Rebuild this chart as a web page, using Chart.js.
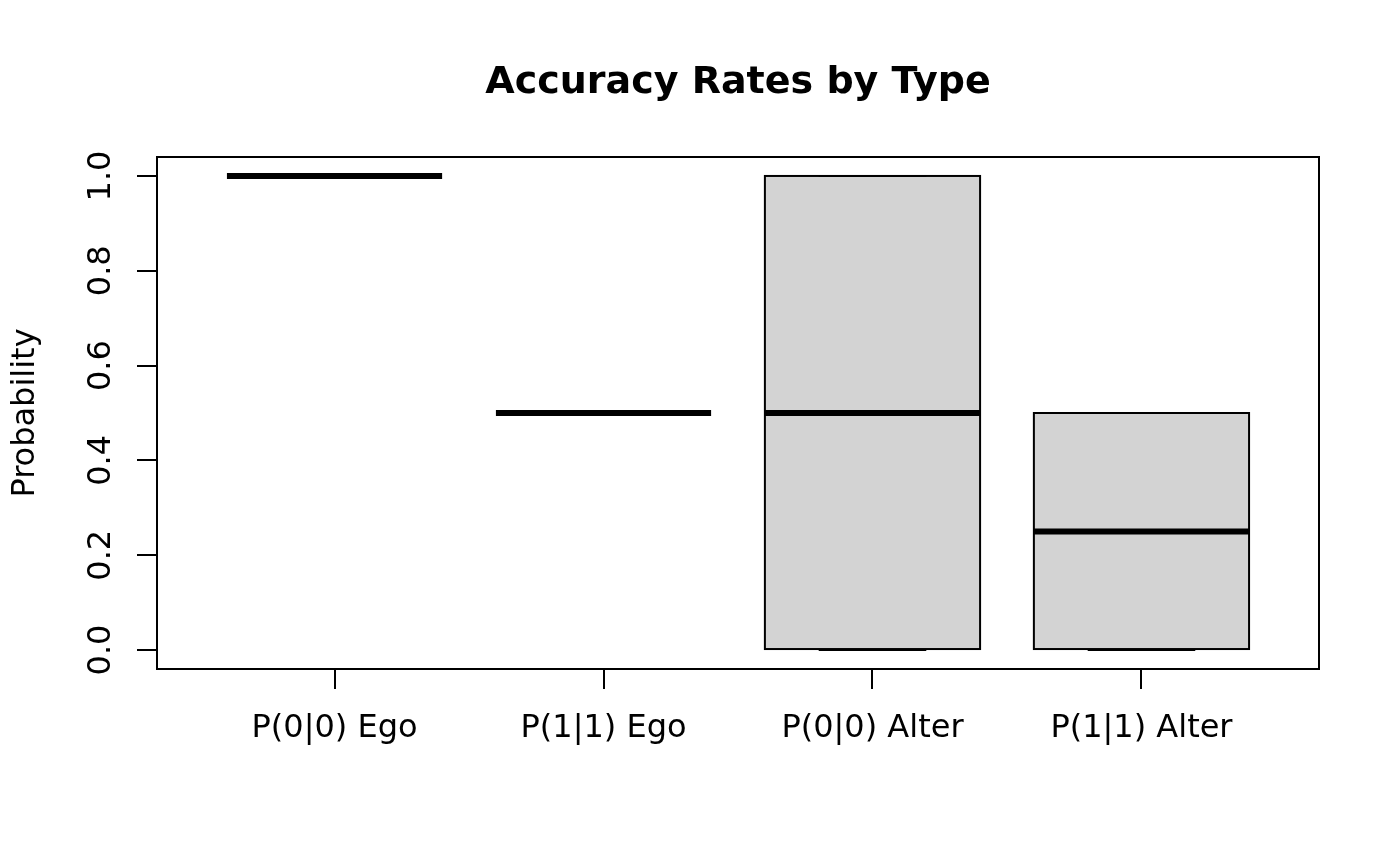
<!DOCTYPE html>
<html>
<head>
<meta charset="utf-8">
<title>Accuracy Rates by Type</title>
<script src="https://cdn.jsdelivr.net/npm/chart.js@4"></script>
<style>
  body { margin: 0; background: white; }
</style>
</head>
<body>
<canvas id="graphic" width="1400" height="866"></canvas>
<script>
// box statistics per type
const categories = ["P(0|0) Ego", "P(1|1) Ego", "P(0|0) Alter", "P(1|1) Alter"]
const lowerWhisker = [1, 0.5, 0, 0]
const lowerQuartile = [1, 0.5, 0, 0]
const medians = [1, 0.5, 0.5, 0.25]
const upperQuartile = [1, 0.5, 1, 0.5]
const upperWhisker = [1, 0.5, 1, 0.5]
const yTicks = [0, 0.2, 0.4, 0.6, 0.8, 1.0]

Chart.defaults.font.family = "DejaVu Sans"
Chart.defaults.color = "black"

// box outlines, medians, staples and whiskers on top of the filled bars
const boxExtras = {
    id: "boxExtras",
    afterDatasetsDraw(chart) {
        const ctx = chart.ctx
        const x = chart.scales.x
        const y = chart.scales.y
        const bars = chart.getDatasetMeta(0).data
        ctx.save()
        ctx.strokeStyle = "black"
        for (let i = 0; i < categories.length; i++) {
            const cx = x.getPixelForValue(i + 1)
            const half = x.getPixelForValue(i + 1.4) - cx
            const staple = half / 2

            // box outline, centred on the box edges
            const bar = bars[i]
            ctx.lineWidth = 2
            if (Math.abs(bar.base - bar.y) > 0) {
                ctx.strokeRect(bar.x - bar.width / 2, bar.y, bar.width, bar.base - bar.y)
            }

            // whiskers (dashed)
            ctx.setLineDash([8, 6])
            if (upperWhisker[i] > upperQuartile[i]) {
                ctx.beginPath()
                ctx.moveTo(cx, y.getPixelForValue(upperQuartile[i]))
                ctx.lineTo(cx, y.getPixelForValue(upperWhisker[i]))
                ctx.stroke()
            }
            if (lowerWhisker[i] < lowerQuartile[i]) {
                ctx.beginPath()
                ctx.moveTo(cx, y.getPixelForValue(lowerQuartile[i]))
                ctx.lineTo(cx, y.getPixelForValue(lowerWhisker[i]))
                ctx.stroke()
            }
            ctx.setLineDash([])

            // staples
            let yy = y.getPixelForValue(upperWhisker[i])
            ctx.beginPath()
            ctx.moveTo(cx - staple, yy)
            ctx.lineTo(cx + staple, yy)
            ctx.stroke()
            yy = y.getPixelForValue(lowerWhisker[i])
            ctx.beginPath()
            ctx.moveTo(cx - staple, yy)
            ctx.lineTo(cx + staple, yy)
            ctx.stroke()

            // median
            ctx.lineWidth = 6
            const my = y.getPixelForValue(medians[i])
            ctx.beginPath()
            ctx.moveTo(cx - half, my)
            ctx.lineTo(cx + half, my)
            ctx.stroke()
        }
        ctx.restore()
    },
    afterDraw(chart) {
        // frame round the plot region
        const a = chart.chartArea
        const ctx = chart.ctx
        ctx.save()
        ctx.strokeStyle = "black"
        ctx.lineWidth = 2
        ctx.strokeRect(a.left, a.top, a.right - a.left, a.bottom - a.top)
        ctx.restore()
    },
}

const boxData = categories.map((c, i) => ({ x: i + 1, y: [lowerQuartile[i], upperQuartile[i]] }))

const chartID = document.getElementById("graphic").getContext("2d")
let graphic = new Chart(chartID, {
    type: "bar",
    data: {
        datasets: [
            {
                label: "Probability",
                data: boxData,
                backgroundColor: "rgb(211,211,211)",
                borderWidth: 0,
                barPercentage: 0.8,
                categoryPercentage: 1.0,
            },
        ],
    },
    plugins: [boxExtras],
    options: {
        responsive: false,
        devicePixelRatio: 1,
        animation: false,
        events: [],
        layout: {
            padding: { left: 0, right: 81, top: 0, bottom: 117 },
        },
        plugins: {
            legend: { display: false },
            tooltip: { enabled: false },
            title: {
                display: true,
                text: "Accuracy Rates by Type",
                fullSize: false,
                font: { size: 38, weight: "bold" },
                padding: { top: 60, bottom: 51.4 },
            },
        },
        scales: {
            x: {
                type: "linear",
                min: 0.34,
                max: 4.66,
                offset: false,
                afterBuildTicks: (scale) => {
                    scale.ticks = categories.map((c, i) => ({ value: i + 1 }))
                },
                afterFit: (scale) => {
                    scale.height = 80
                },
                grid: {
                    offset: false,
                    drawOnChartArea: false,
                    drawTicks: true,
                    tickLength: 20,
                    lineWidth: 2,
                    color: "black",
                },
                border: { display: false },
                ticks: {
                    font: { size: 32 },
                    padding: 20,
                    maxRotation: 0,
                    autoSkip: false,
                    callback: (value) => categories[value - 1],
                },
            },
            y: {
                min: -0.04,
                max: 1.04,
                afterBuildTicks: (scale) => {
                    scale.ticks = yTicks.map((v) => ({ value: v }))
                },
                afterFit: (scale) => {
                    scale.width = 157
                },
                grid: {
                    drawOnChartArea: false,
                    drawTicks: true,
                    tickLength: 20,
                    lineWidth: 2,
                    color: "black",
                },
                border: { display: false },
                title: {
                    display: true,
                    text: "Probability",
                    font: { size: 32 },
                    padding: { top: 6, bottom: 0 },
                },
                ticks: {
                    font: { size: 32 },
                    minRotation: 90,
                    maxRotation: 90,
                    crossAlign: "center",
                    padding: 10,
                    callback: (value) => value.toFixed(1),
                },
            },
        },
    },
})
</script>
</body>
</html>
